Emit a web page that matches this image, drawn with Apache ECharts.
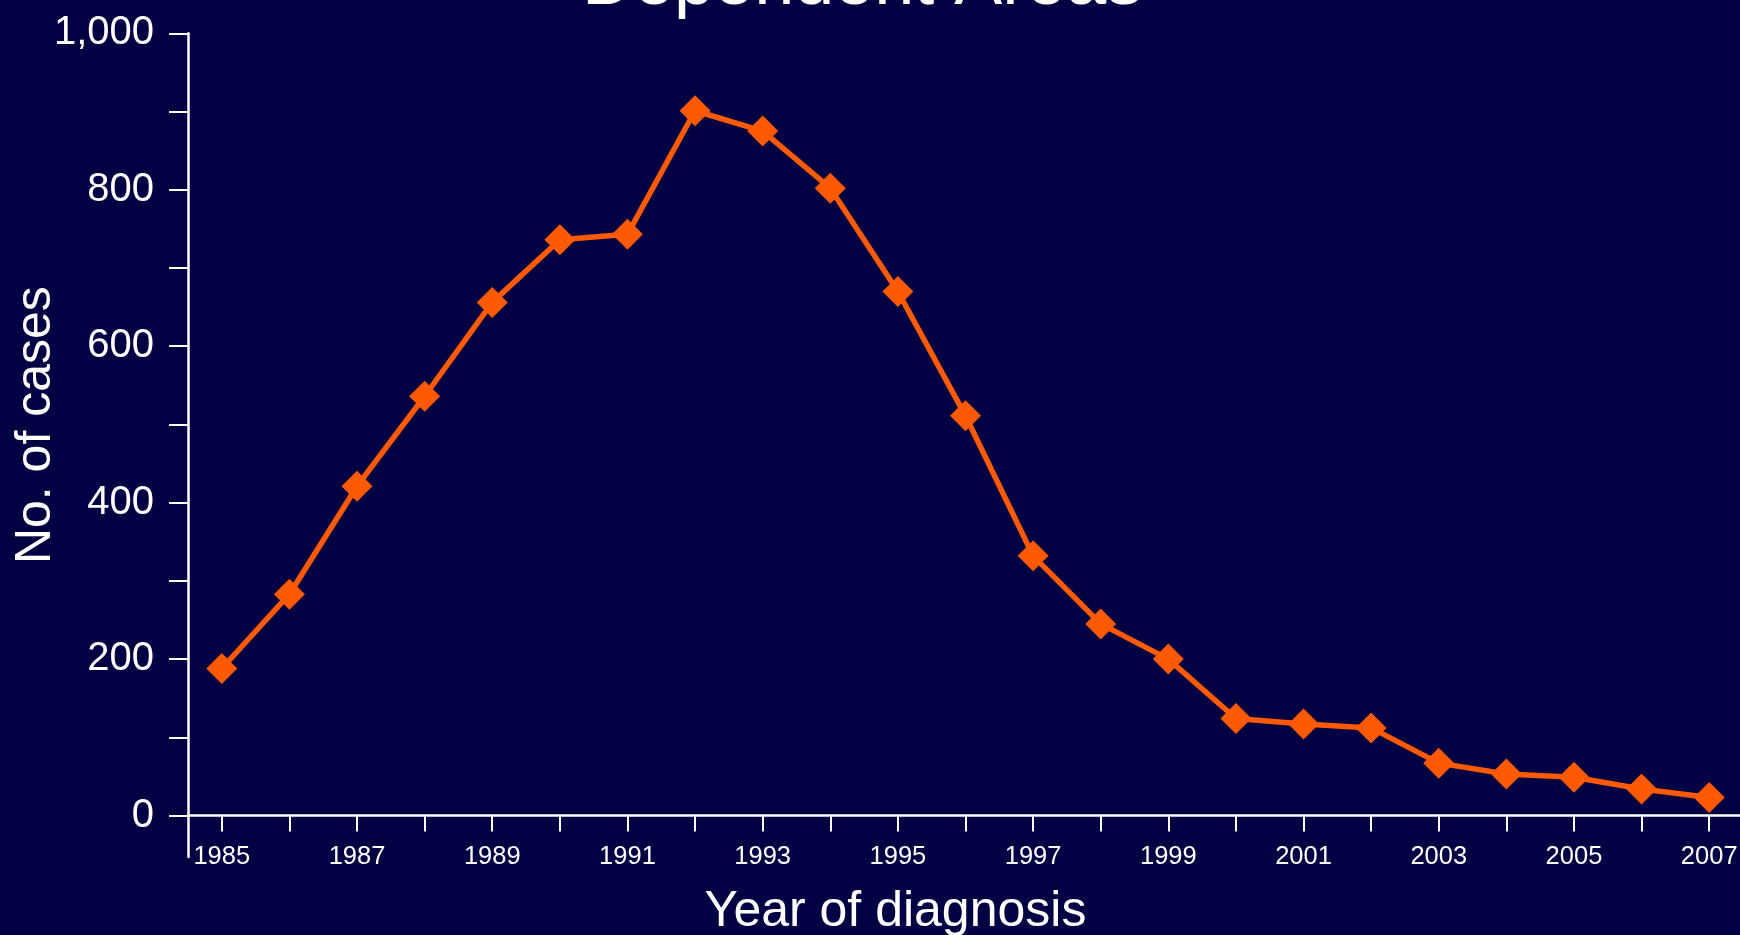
<!DOCTYPE html>
<html>
<head>
<meta charset="utf-8">
<script src="https://cdn.jsdelivr.net/npm/echarts@6/dist/echarts.min.js"></script>
<style>
html,body{margin:0;padding:0;background:#000042;}
#chart{width:1740px;height:935px;}
</style>
</head>
<body>
<div id="chart"></div>
<script>
const years = ['1985','1986','1987','1988','1989','1990','1991','1992','1993','1994','1995','1996','1997','1998','1999','2000','2001','2002','2003','2004','2005','2006','2007'];
const cases = [188, 283, 421, 536, 656, 736, 743, 901, 875, 802, 670, 511, 332, 245, 200, 124, 117, 112, 67, 53, 49, 34, 23];
const yTickValues = [0,100,200,300,400,500,600,700,800,900,1000];
const yLabelValues = [0,200,400,600,800,1000];
const titleText = 'Dependent Areas';
const xName = 'Year of diagnosis';
const yName = 'No. of cases';

const FONT = '"Liberation Sans", Arial, Helvetica, sans-serif';
const chart = echarts.init(document.getElementById('chart'), null, {renderer:'canvas'});
chart.setOption({
  backgroundColor: '#000042',
  animation: false,
  title: {
    text: titleText,
    left: 582,
    top: -52,
    padding: 0,
    textStyle: {color:'#ffffff', fontSize:72, fontWeight:'normal', fontFamily:FONT, lineHeight:72}
  },
  grid: {left:188, top:33.3, width:1555, height:823.7, containLabel:false, outerBoundsMode:'none'},
  xAxis: {
    type: 'category',
    data: years,
    boundaryGap: true,
    name: xName,
    nameLocation: 'middle',
    nameGap: 30,
    nameTextStyle: {color:'#ffffff', fontSize:50, fontFamily:FONT, padding:[0,140,0,0]},
    axisLine: {onZero:true, lineStyle:{color:'#ffffff', width:2.5}},
    axisTick: {show:true, alignWithLabel:true, interval:0, length:16, lineStyle:{color:'#ffffff', width:2}},
    axisLabel: {interval:1, color:'#ffffff', fontSize:25.5, fontFamily:FONT, margin:-13},
    splitLine: {show:false}
  },
  yAxis: {
    type: 'value',
    min: -53,
    max: 1000,
    name: yName,
    nameLocation: 'middle',
    nameRotate: 90,
    nameGap: 127,
    nameMoveOverlap: false,
    nameTextStyle: {color:'#ffffff', fontSize:50, fontFamily:FONT, padding:[0,0,0,40]},
    axisLine: {show:true, lineStyle:{color:'#ffffff', width:2.5}},
    axisTick: {show:true, length:19, customValues:yTickValues, lineStyle:{color:'#ffffff', width:2}},
    axisLabel: {
      color:'#ffffff', fontSize:40, fontFamily:FONT, margin:34,
      customValues: yLabelValues,
      formatter: v => v.toLocaleString('en-US')
    },
    splitLine: {show:false}
  },
  series: [{
    type: 'line',
    data: cases,
    symbol: 'diamond',
    symbolSize: 31,
    showAllSymbol: true,
    lineStyle: {color:'#ff5a00', width:5.5},
    itemStyle: {color:'#ff5a00'}
  }]
});
</script>
</body>
</html>
